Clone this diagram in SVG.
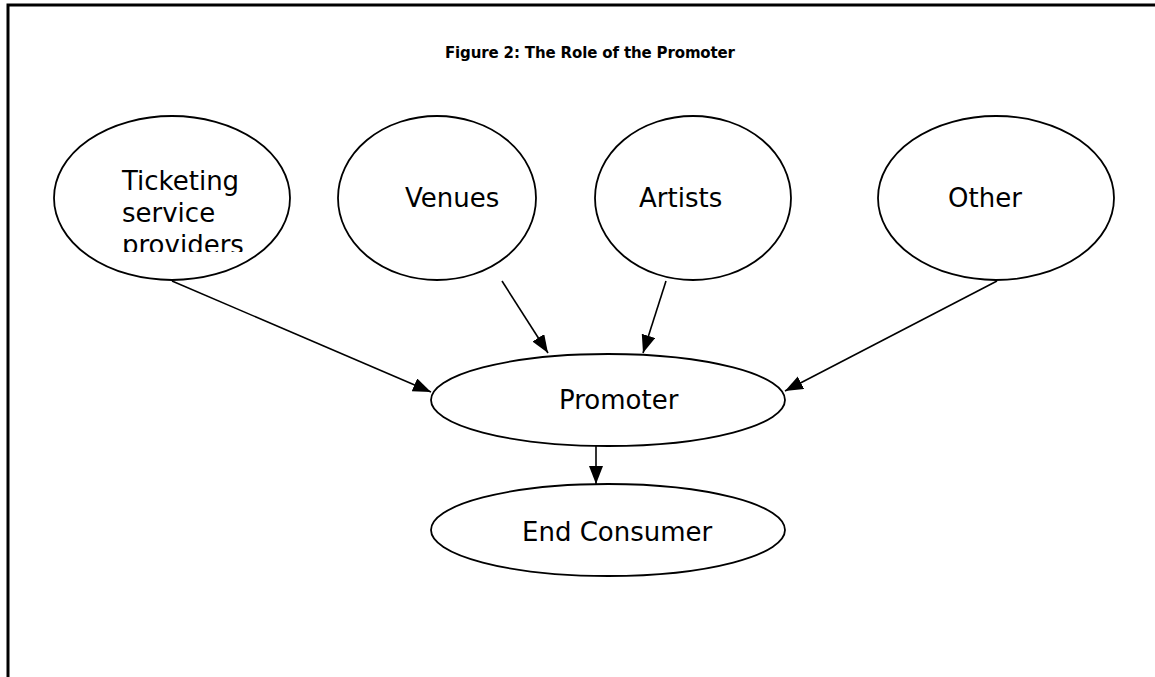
<svg xmlns="http://www.w3.org/2000/svg" width="1155" height="677" viewBox="0 0 1155 677">
<style>
.node ellipse{fill:#fff;stroke:#000;stroke-width:1.8}
.lbl{font-family:"DejaVu Sans",Verdana,sans-serif;font-size:26px;fill:#000}
.title{font-family:"DejaVu Sans",Verdana,sans-serif;font-size:15px;font-weight:bold;fill:#000}
#connectors line{stroke:#000;stroke-width:1.6;marker-end:url(#arr)}
</style>
<defs>
<marker id="arr" markerUnits="userSpaceOnUse" markerWidth="20" markerHeight="16" refX="18" refY="7" orient="auto">
<path d="M0,0 L18,7 L0,14 z" fill="#000"/>
</marker>
<clipPath id="clipT"><rect x="100" y="150" width="160" height="102"/></clipPath>
</defs>
<rect width="1155" height="677" fill="#fff"/>
<path d="M8,677 V5 H1155" fill="none" stroke="#000" stroke-width="3"/>
<text class="title" x="445" y="58" textLength="290" lengthAdjust="spacing">Figure 2: The Role of the Promoter</text>
<g id="connectors">
<line x1="172" y1="281" x2="431" y2="392"/>
<line x1="502" y1="281" x2="548" y2="353"/>
<line x1="666" y1="281" x2="643" y2="353"/>
<line x1="997" y1="281" x2="785" y2="391"/>
<line x1="596" y1="446" x2="596" y2="484"/>
</g>
<g id="ticketing" class="node">
<ellipse cx="172" cy="198" rx="118" ry="82"/>
<g clip-path="url(#clipT)">
<text class="lbl" x="122" y="190">Ticketing</text>
<text class="lbl" x="122" y="222">service</text>
<text class="lbl" x="122" y="254">providers</text>
</g>
</g>
<g id="venues" class="node">
<ellipse cx="437" cy="198" rx="99" ry="82"/>
<text class="lbl" x="405" y="207">Venues</text>
</g>
<g id="artists" class="node">
<ellipse cx="693" cy="198" rx="98" ry="82"/>
<text class="lbl" x="639" y="207">Artists</text>
</g>
<g id="other" class="node">
<ellipse cx="996" cy="198" rx="118" ry="82"/>
<text class="lbl" x="948" y="207">Other</text>
</g>
<g id="promoter" class="node">
<ellipse cx="608" cy="400" rx="177" ry="46"/>
<text class="lbl" x="559" y="409">Promoter</text>
</g>
<g id="endconsumer" class="node">
<ellipse cx="608" cy="530" rx="177" ry="46"/>
<text class="lbl" x="522" y="541">End Consumer</text>
</g>
</svg>
